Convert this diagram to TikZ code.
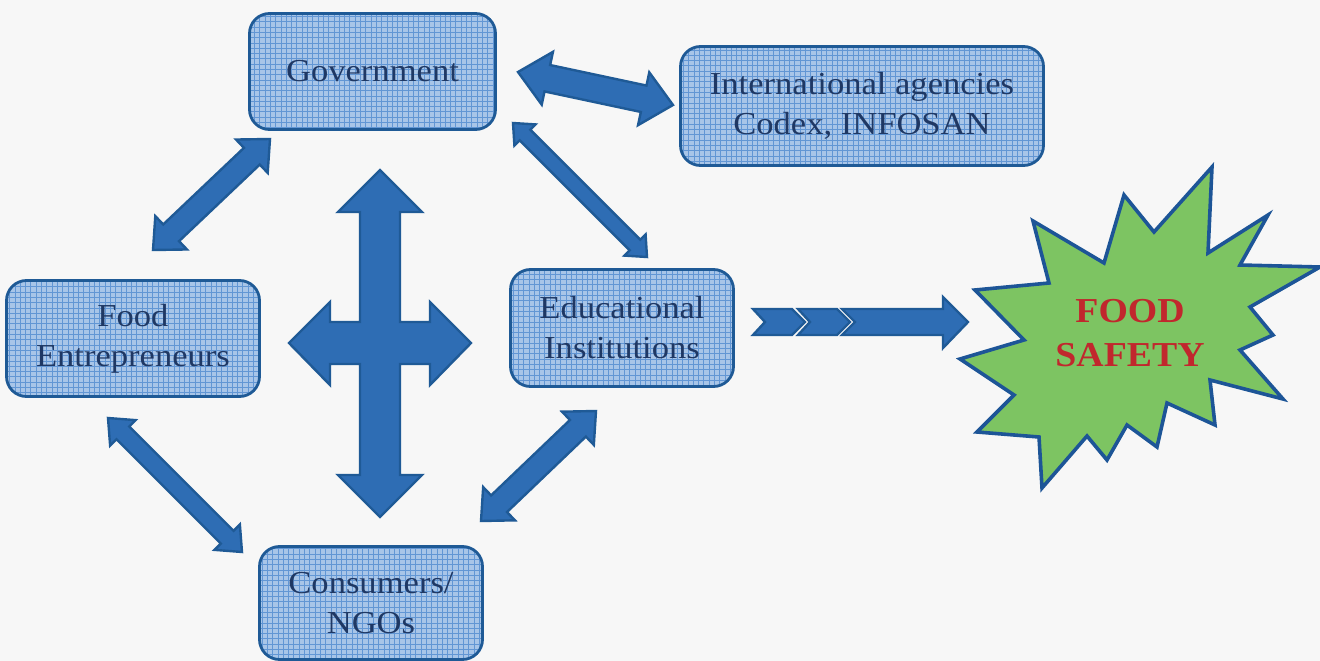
\documentclass[tikz,border=0pt]{standalone}
\usepackage{fontspec}
\setmainfont{Liberation Serif}[FakeStretch=1.08]
\usetikzlibrary{calc}
\definecolor{bg}{HTML}{F7F7F7}
\definecolor{boxfill}{HTML}{A8C5E8}
\definecolor{gridc}{HTML}{6296D4}
\definecolor{boxline}{HTML}{1F5A96}
\definecolor{txt}{HTML}{1F3864}
\definecolor{arrfill}{HTML}{2E6DB4}
\definecolor{arrline}{HTML}{1F5A96}
\definecolor{starline}{HTML}{1D5597}
\definecolor{starfill}{HTML}{7DC462}
\definecolor{fsred}{HTML}{C1272D}
\newcommand\boxfont{\fontsize{32}{40}\selectfont}
\newcommand\blockarrow[5]{% from, to, shaft half, head half, head length
  \path ($(#1)!#5!(#2)$) coordinate (ba1) ($(#2)!#5!(#1)$) coordinate (ba2);
  \draw[barrow] (#1) -- ($(ba1)!#4!90:(#2)$) -- ($(ba1)!#3!90:(#2)$)
    -- ($(ba2)!#3!-90:(#1)$) -- ($(ba2)!#4!-90:(#1)$) -- (#2)
    -- ($(ba2)!#4!90:(#1)$) -- ($(ba2)!#3!90:(#1)$)
    -- ($(ba1)!#3!-90:(#2)$) -- ($(ba1)!#4!-90:(#2)$) -- cycle;
}
\tikzset{
  box/.style={draw=boxline, line width=2.8pt, fill=boxfill, rounded corners=20pt,
    inner sep=0pt, align=center, text=txt, font=\boxfont,
    path picture={\draw[gridc, line width=0.6pt, sharp corners]
      (path picture bounding box.south west) grid[step=5.3pt] (path picture bounding box.north east);}},
  barrow/.style={draw=arrline, fill=arrfill, line width=2.4pt, line join=miter},
  starstyle/.style={draw=starline, fill=starfill, line width=3.6pt, line join=miter}
}
\begin{document}
\begin{tikzpicture}[x=1pt, y=-1pt]
\fill[bg] (0,0) rectangle (1320,661);
\useasboundingbox (0,0) rectangle (1320,661);

% boxes
\node[box, minimum width=246pt, minimum height=116pt] (gov) at (372.5,71.5) {\raisebox{-2pt}{Government}};
\node[box, minimum width=363pt, minimum height=119pt] (intl) at (862,106) {International agencies\\Codex, INFOSAN};
\node[box, minimum width=253pt, minimum height=116pt] (fe) at (133,338.5) {Food\\Entrepreneurs};
\node[box, minimum width=223pt, minimum height=117pt] (edu) at (622,328) {Educational\\Institutions};
\node[box, minimum width=223pt, minimum height=113pt] (cons) at (371,603) {Consumers/\\NGOs};

% arrow end points
\coordinate (gi1) at (518,72);  \coordinate (gi2) at (673,105);
\coordinate (gf1) at (270,139); \coordinate (gf2) at (153,250);
\coordinate (ge1) at (513,123); \coordinate (ge2) at (647,257);
\coordinate (fc1) at (108,418); \coordinate (fc2) at (242,552);
\coordinate (ec1) at (596,411); \coordinate (ec2) at (481,521);

\blockarrow{gi1}{gi2}{13.5pt}{27pt}{30pt}
\blockarrow{gf1}{gf2}{11.5pt}{23pt}{25pt}
\blockarrow{ge1}{ge2}{7.5pt}{15pt}{17pt}
\blockarrow{fc1}{fc2}{9pt}{18pt}{21pt}
\blockarrow{ec1}{ec2}{11.5pt}{23pt}{25pt}

% central four-way arrow
\draw[barrow] (380,170) -- (422,212) -- (400,212) -- (400,322) -- (430,322) -- (430,302)
  -- (471,343) -- (430,385) -- (430,364) -- (400,364) -- (400,475) -- (422,475)
  -- (380,517) -- (338,475) -- (360,475) -- (360,364) -- (330,364) -- (330,385)
  -- (289,343) -- (330,302) -- (330,322) -- (360,322) -- (360,212) -- (338,212) -- cycle;

% chevron arrow to food safety
\draw[barrow] (753,309) -- (792,309) -- (805,322) -- (792,335) -- (753,335) -- (765,322) -- cycle;
\draw[barrow] (798,309) -- (837,309) -- (850,322) -- (837,335) -- (798,335) -- (810,322) -- cycle;
\draw[barrow] (842,309) -- (943,309) -- (943,297) -- (968,322) -- (943,348) -- (943,335)
  -- (842,335) -- (855,322) -- cycle;

% star
\draw[starstyle] (1212,167) -- (1208,253) -- (1268,215) -- (1240,265) -- (1320,267)
  -- (1250,307) -- (1273,335) -- (1240,350) -- (1283,399) -- (1210,380) -- (1215,425)
  -- (1167,403) -- (1157,447) -- (1127,425) -- (1107,460) -- (1087,436) -- (1042,488)
  -- (1039,437) -- (977,432) -- (1014,395) -- (960,359) -- (1024,340) -- (975,290)
  -- (1049,283) -- (1033,221) -- (1104,263) -- (1124,195) -- (1154,232) -- cycle;
\node[font=\bfseries\fontsize{35}{44}\selectfont, text=fsred, align=center] (fs) at (1130,333) {FOOD\\SAFETY};
\end{tikzpicture}
\end{document}
